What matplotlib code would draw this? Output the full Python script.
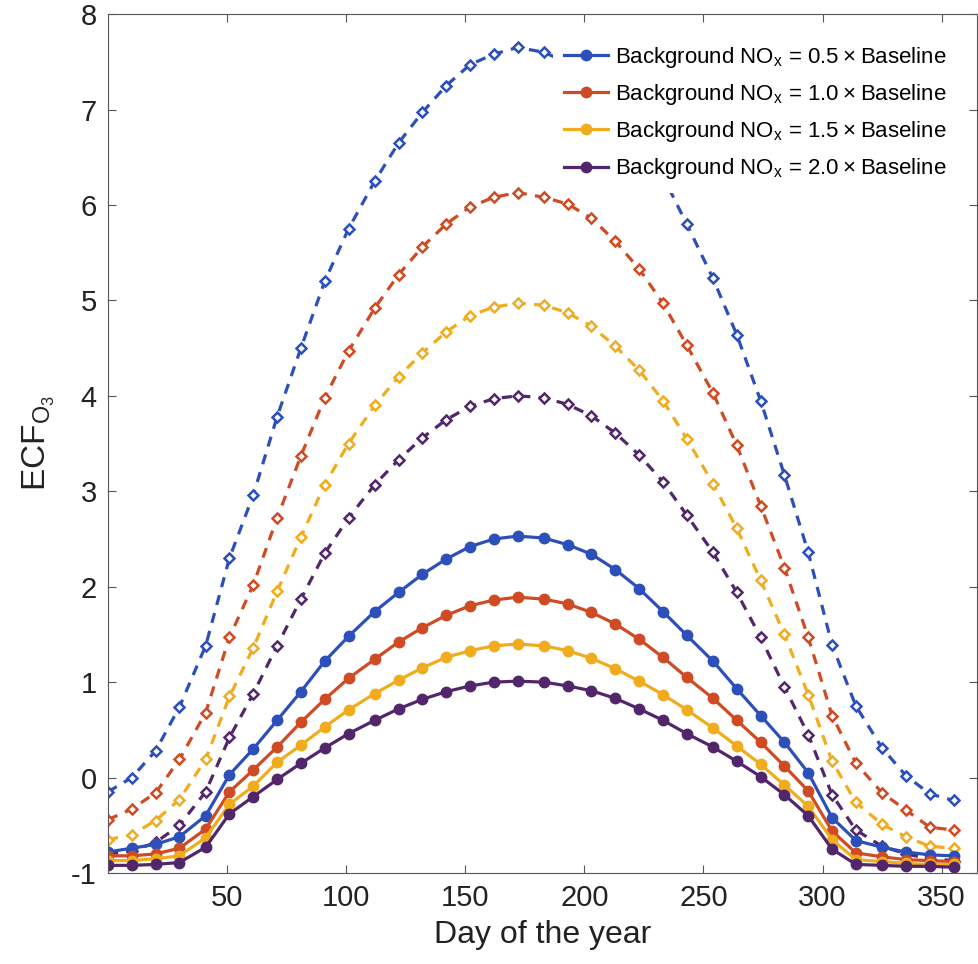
import matplotlib.pyplot as plt

plt.rcParams["font.family"] = ["Liberation Sans", "DejaVu Sans"]
plt.rcParams["mathtext.default"] = "regular"
plt.rcParams["axes.unicode_minus"] = False

days = [0, 10, 20, 30, 41, 51, 61, 71, 81, 91, 101, 112, 122, 132, 142, 152, 162, 172,
        183, 193, 203, 213, 223, 233, 243, 254, 264, 274, 284, 294, 304, 314, 325, 335, 345, 355]

# ECF solid curves (filled circles)
ecf_05 = [-0.78, -0.74, -0.70, -0.62, -0.40, 0.03, 0.30, 0.60, 0.90, 1.22, 1.48, 1.74, 1.94, 2.13,
          2.29, 2.42, 2.50, 2.53, 2.51, 2.44, 2.34, 2.18, 1.98, 1.74, 1.49, 1.22, 0.93, 0.65,
          0.37, 0.05, -0.42, -0.66, -0.73, -0.78, -0.81, -0.82]
ecf_10 = [-0.82, -0.82, -0.80, -0.74, -0.54, -0.15, 0.08, 0.32, 0.58, 0.82, 1.04, 1.24, 1.42, 1.57,
          1.70, 1.80, 1.86, 1.89, 1.87, 1.82, 1.73, 1.61, 1.45, 1.26, 1.05, 0.83, 0.60, 0.37,
          0.12, -0.14, -0.56, -0.79, -0.83, -0.86, -0.87, -0.88]
ecf_15 = [-0.87, -0.87, -0.85, -0.82, -0.63, -0.28, -0.09, 0.16, 0.34, 0.53, 0.71, 0.88, 1.02, 1.15,
          1.26, 1.33, 1.38, 1.40, 1.38, 1.33, 1.25, 1.14, 1.01, 0.87, 0.71, 0.52, 0.33, 0.14,
          -0.08, -0.30, -0.65, -0.86, -0.88, -0.90, -0.91, -0.91]
ecf_20 = [-0.92, -0.92, -0.91, -0.89, -0.73, -0.38, -0.20, -0.02, 0.15, 0.31, 0.46, 0.60, 0.72, 0.82,
          0.90, 0.96, 1.00, 1.01, 1.00, 0.96, 0.91, 0.83, 0.72, 0.60, 0.46, 0.32, 0.17, 0.01,
          -0.18, -0.40, -0.75, -0.91, -0.92, -0.93, -0.93, -0.94]

# dashed curves (open diamonds)
ecf_05_d = [-0.15, 0.00, 0.28, 0.74, 1.38, 2.30, 2.96, 3.78, 4.50, 5.20, 5.75, 6.25, 6.65, 6.97,
            7.25, 7.47, 7.58, 7.65, 7.60, 7.49, 7.27, 7.00, 6.70, 6.30, 5.80, 5.23, 4.64, 3.95,
            3.17, 2.36, 1.39, 0.75, 0.31, 0.02, -0.17, -0.24]
ecf_10_d = [-0.44, -0.33, -0.16, 0.19, 0.68, 1.47, 2.02, 2.72, 3.37, 3.98, 4.47, 4.92, 5.27, 5.56,
            5.80, 5.98, 6.08, 6.13, 6.08, 6.01, 5.86, 5.62, 5.33, 4.97, 4.53, 4.03, 3.48, 2.85,
            2.20, 1.47, 0.65, 0.15, -0.16, -0.34, -0.52, -0.55]
ecf_15_d = [-0.65, -0.60, -0.45, -0.23, 0.19, 0.85, 1.36, 1.95, 2.52, 3.07, 3.50, 3.90, 4.20, 4.45,
            4.67, 4.84, 4.93, 4.97, 4.95, 4.87, 4.73, 4.52, 4.27, 3.95, 3.55, 3.08, 2.61, 2.07,
            1.50, 0.87, 0.17, -0.26, -0.49, -0.62, -0.72, -0.74]
ecf_20_d = [-0.80, -0.77, -0.68, -0.50, -0.15, 0.42, 0.88, 1.38, 1.87, 2.35, 2.72, 3.07, 3.33, 3.56,
            3.75, 3.89, 3.97, 4.00, 3.98, 3.91, 3.79, 3.61, 3.38, 3.10, 2.75, 2.36, 1.94, 1.47,
            0.95, 0.45, -0.18, -0.55, -0.72, -0.80, -0.85, -0.87]

factors = ["0.5", "1.0", "1.5", "2.0"]
colors = ["#2C4FB9", "#CF4B23", "#F1AC1E", "#52266A"]

fig = plt.figure(figsize=(9.79, 9.64), dpi=100)
ax = fig.add_axes([0.1103, 0.0944, 0.888, 0.891])

for ys, c in zip([ecf_05_d, ecf_10_d, ecf_15_d, ecf_20_d], colors):
    ax.plot(days, ys, color=c, lw=2.3, dashes=(3.2, 2.6), marker="D", ms=5.5,
            mfc="white", mec=c, mew=1.8)

for ys, c, f in zip([ecf_05, ecf_10, ecf_15, ecf_20], colors, factors):
    ax.plot(days, ys, color=c, lw=2.3, marker="o", ms=7.5, mfc=c, mec=c,
            label=f"Background NO$_x$ = {f}\u2009\u00d7\u2009Baseline")

ax.set_xlim(0, 365)
ax.set_ylim(-1, 8)
ax.set_xticks([50, 100, 150, 200, 250, 300, 350])
ax.set_yticks(range(-1, 9))
ax.tick_params(direction="in", length=6, width=0.8, color="#555555",
               top=True, right=True, labelsize=21, labelcolor="#222222", pad=8)
for s in ax.spines.values():
    s.set_color("#555555")
    s.set_linewidth(0.8)

ax.set_xlabel("Day of the year", fontsize=23, color="#222222", labelpad=6)
ax.set_ylabel("ECF$_{O_3}$", fontsize=24, color="#222222", labelpad=10)

leg = ax.legend(loc="upper right", bbox_to_anchor=(0.985, 0.985), fontsize=16,
                frameon=True, facecolor="white", edgecolor="none", framealpha=1,
                handlelength=2.0, handletextpad=0.3, labelspacing=0.55,
                borderpad=0.3)
leg.get_frame().set_boxstyle("square", pad=0.2)

fig.savefig("out.png", dpi=100)
